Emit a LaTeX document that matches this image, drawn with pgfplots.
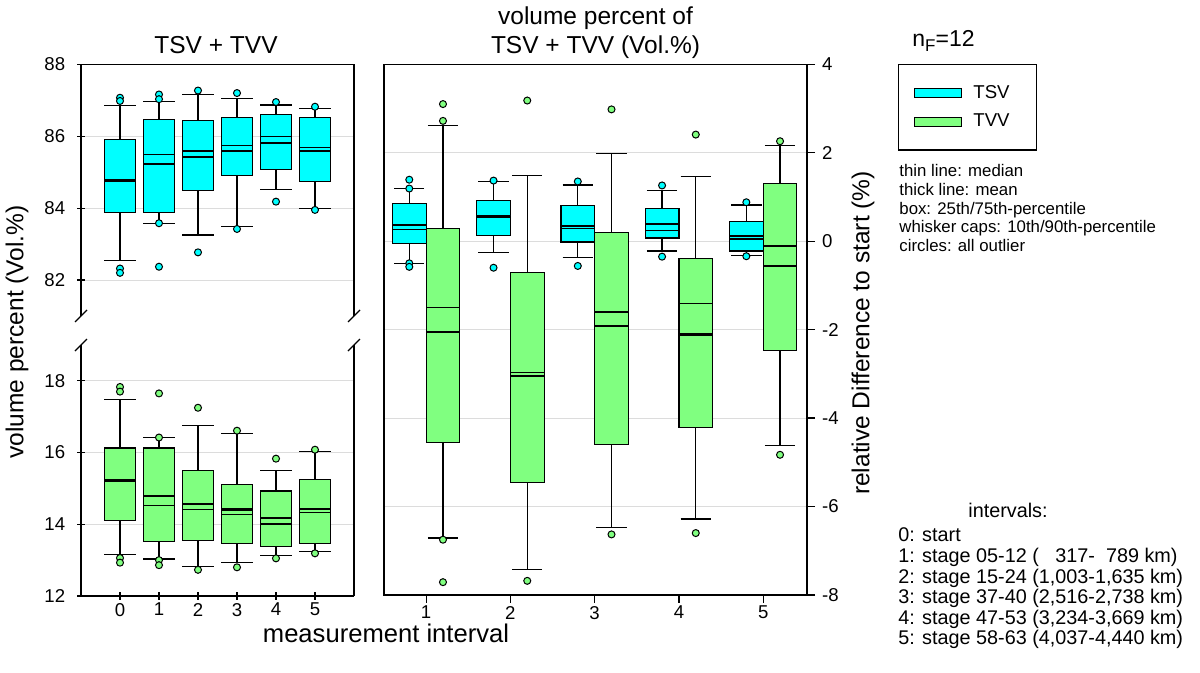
\documentclass[border=0pt]{standalone}
\usepackage{fontspec}
\setmainfont{Liberation Sans}
\usepackage{pgfplots}
\pgfplotsset{compat=1.18}
\usepgfplotslibrary{statistics}
\definecolor{tsv}{RGB}{0,255,255}
\definecolor{tvv}{RGB}{128,255,128}
\definecolor{gridc}{RGB}{220,220,220}
\newcommand{\bigf}{\fontsize{12.25}{14}\selectfont}
\newcommand{\bp}[7]{\addplot[forget plot, boxplot prepared={draw position=#1, lower whisker=#2, lower quartile=#3, median=#4, upper quartile=#5, upper whisker=#6}, #7] coordinates {};}
\pgfplotsset{
  mybase/.style={scale only axis, anchor=south west, clip=false,
    tick align=outside, major tick length=4pt,
    tick style={black, line width=0.6pt},
    axis line style={line width=0.6pt},
    ymajorgrids, grid style={gridc, line width=0.5pt},
    tick label style={font=\fontsize{9.3}{10}\selectfont},
    xticklabel style={yshift=2pt},
    /pgf/number format/assume math mode=true,
    boxplot/draw direction=y},
  noarrows/.style={x axis line style={-}, y axis line style={-},
    every outer x axis line/.append style={-},
    every outer y axis line/.append style={-},
    yticklabel style={xshift=-2.4pt}},
  tsvbox/.style={draw=black, fill=tsv, line width=0.6pt},
  tvvbox/.style={draw=black, fill=tvv, line width=0.6pt},
}
\begin{document}
\begin{tikzpicture}
\useasboundingbox (0,0) rectangle (600pt,336.5pt);
% ---------- left top: TSV absolute ----------
\begin{axis}[mybase, at={(40.5pt,178.5pt)}, width=136.5pt, height=125.85pt,
  xmin=-1, xmax=6, ymin=81, ymax=88,
  axis x line=top, axis y line=left, noarrows, xtick=\empty, ytick={82,84,86,88},
  boxplot/box extend=0.8, boxplot/whisker extend=0.8]
\bp{0}{82.54}{83.87}{84.80}{85.90}{86.85}{tsvbox}
\bp{1}{83.58}{83.87}{85.49}{86.47}{86.96}{tsvbox}
\bp{2}{83.25}{84.50}{85.59}{86.44}{87.16}{tsvbox}
\bp{3}{83.48}{84.90}{85.75}{86.52}{87.04}{tsvbox}
\bp{4}{84.51}{85.07}{86.00}{86.61}{86.87}{tsvbox}
\bp{5}{83.98}{84.75}{85.68}{86.53}{86.76}{tsvbox}
\addplot[forget plot, only marks, mark=-, mark size=7.8pt, mark options={draw=black, line width=1.1pt}]
  coordinates {(0,84.77) (1,85.23) (2,85.43) (3,85.58) (4,85.82) (5,85.58)};
\addplot[forget plot, only marks, mark=*, mark size=1.75pt, mark options={draw=black, fill=tsv, line width=0.5pt}]
  coordinates {(0,87.07) (0,86.98) (0,82.32) (0,82.20)
               (1,87.16) (1,87.03) (1,83.58) (1,82.37)
               (2,87.27) (2,82.77) (3,87.20) (3,83.42)
               (4,86.95) (4,84.18) (5,86.82) (5,83.95)};
\draw[line width=0.6pt] (rel axis cs:1,0) -- (rel axis cs:1,1);
\draw[line width=0.6pt] (rel axis cs:0,0) +(-3pt,-3pt) -- +(3pt,3pt);
\draw[line width=0.6pt] (rel axis cs:1,0) +(-3pt,-3pt) -- +(3pt,3pt);
\end{axis}
% ---------- left bottom: TVV absolute ----------
\begin{axis}[mybase, at={(40.5pt,38.5pt)}, width=136.5pt, height=125.5pt,
  xmin=-1, xmax=6, ymin=12, ymax=19,
  axis x line=bottom, axis y line=left, noarrows, xtick={0,1,2,3,4,5}, ytick={12,14,16,18},
  boxplot/box extend=0.8, boxplot/whisker extend=0.8]
\bp{0}{13.15}{14.10}{15.24}{16.13}{17.48}{tvvbox}
\bp{1}{13.03}{13.52}{14.52}{16.13}{16.42}{tvvbox}
\bp{2}{12.82}{13.55}{14.41}{15.49}{16.76}{tvvbox}
\bp{3}{12.94}{13.47}{14.27}{15.10}{16.53}{tvvbox}
\bp{4}{13.14}{13.37}{14.01}{14.93}{15.49}{tvvbox}
\bp{5}{13.25}{13.46}{14.33}{15.25}{16.02}{tvvbox}
\addplot[forget plot, only marks, mark=-, mark size=7.8pt, mark options={draw=black, line width=1.1pt}]
  coordinates {(0,15.21) (1,14.78) (2,14.57) (3,14.41) (4,14.17) (5,14.42)};
\addplot[forget plot, only marks, mark=*, mark size=1.75pt, mark options={draw=black, fill=tvv, line width=0.5pt}]
  coordinates {(0,17.83) (0,17.70) (0,13.06) (0,12.93)
               (1,17.65) (1,16.42) (1,13.00) (1,12.86)
               (2,17.25) (2,12.73) (3,16.61) (3,12.80)
               (4,15.83) (4,13.05) (5,16.08) (5,13.19)};
\draw[line width=0.6pt] (rel axis cs:1,0) -- (rel axis cs:1,1);
\draw[line width=0.6pt] (rel axis cs:0,1) +(-3pt,-3pt) -- +(3pt,3pt);
\draw[line width=0.6pt] (rel axis cs:1,1) +(-3pt,-3pt) -- +(3pt,3pt);
\end{axis}
% ---------- right: relative difference ----------
\begin{axis}[mybase, at={(192pt,39pt)}, width=211.5pt, height=265.35pt,
  xmin=0.5, xmax=5.52, ymin=-8, ymax=4,
  xtick={1,2,3,4,5}, ytick={-8,-6,-4,-2,0,2,4},
  ytick pos=right, yticklabel pos=right, xtick pos=left,
  boxplot/box extend=0.4, boxplot/whisker extend=0.36,
  legend style={at={(1.2151,1)}, anchor=north west, draw=black, line width=0.6pt,
    inner xsep=7.5pt, inner ysep=10.2pt, row sep=6.3pt, column sep=5.8pt,
    font=\fontsize{9.3}{10}\selectfont, nodes={inner sep=0pt, text width=24pt}},
  legend cell align=left]
\bp{0.8}{-0.50}{-0.05}{0.26}{0.86}{1.19}{tsvbox}
\bp{1.8}{-0.25}{0.12}{0.58}{0.92}{1.35}{tsvbox}
\bp{2.8}{-0.36}{-0.02}{0.28}{0.80}{1.27}{tsvbox}
\bp{3.8}{-0.22}{0.07}{0.25}{0.74}{1.14}{tsvbox}
\bp{4.8}{-0.32}{-0.22}{0.05}{0.44}{0.82}{tsvbox}
\bp{1.2}{-6.71}{-4.56}{-1.50}{0.29}{2.62}{tvvbox}
\bp{2.2}{-7.43}{-5.45}{-2.97}{-0.71}{1.48}{tvvbox}
\bp{3.2}{-6.47}{-4.59}{-1.60}{0.19}{1.98}{tvvbox}
\bp{4.2}{-6.28}{-4.21}{-1.41}{-0.40}{1.46}{tvvbox}
\bp{5.2}{-4.62}{-2.48}{-0.11}{1.31}{2.16}{tvvbox}
\addplot[forget plot, only marks, mark=-, mark size=8.4pt, mark options={draw=black, line width=1.1pt}]
  coordinates {(0.8,0.37) (1.8,0.56) (2.8,0.35) (3.8,0.38) (4.8,0.11)
               (1.2,-2.06) (2.2,-3.04) (3.2,-1.92) (4.2,-2.11) (5.2,-0.56)};
\addplot[forget plot, only marks, mark=*, mark size=1.75pt, mark options={draw=black, fill=tsv, line width=0.5pt}]
  coordinates {(0.8,1.39) (0.8,1.19) (0.8,-0.50) (0.8,-0.58)
               (1.8,1.37) (1.8,-0.60) (2.8,1.35) (2.8,-0.56)
               (3.8,1.26) (3.8,-0.35) (4.8,0.88) (4.8,-0.34)};
\addplot[forget plot, only marks, mark=*, mark size=1.75pt, mark options={draw=black, fill=tvv, line width=0.5pt}]
  coordinates {(1.2,3.10) (1.2,2.72) (1.2,-6.75) (1.2,-7.71)
               (2.2,3.18) (2.2,-7.68) (3.2,2.98) (3.2,-6.63)
               (4.2,2.41) (4.2,-6.60) (5.2,2.26) (5.2,-4.83)};
\addlegendimage{legend image code/.code={\draw[draw=black, fill=tsv, line width=0.6pt] (0pt,-2.3pt) rectangle (23.5pt,2.3pt);}}
\addlegendentry{TSV}
\addlegendimage{legend image code/.code={\draw[draw=black, fill=tvv, line width=0.6pt] (0pt,-2.3pt) rectangle (23.5pt,2.3pt);}}
\addlegendentry{TVV}
\end{axis}
% ---------- texts ----------
\node[anchor=base, font=\bigf] at (108pt,309.5pt) {TSV + TVV};
\node[anchor=base, font=\bigf] at (297.75pt,324.25pt) {volume percent of};
\node[anchor=base, font=\bigf] at (297.75pt,309.5pt) {TSV + TVV (Vol.\%)};
\node[rotate=90, font=\bigf] at (8.5pt,170.5pt) {volume percent (Vol.\%)};
\node[rotate=90, font=\bigf] at (431.5pt,170pt) {relative Difference to start (\%)};
\node[anchor=base, font=\fontsize{12.8}{15}\selectfont] at (193pt,15pt) {measurement interval};
\node[anchor=base west, font=\fontsize{11.5}{13}\selectfont, inner sep=0pt] at (456pt,313pt) {n\raisebox{-0.4ex}{\fontsize{8.5}{9}\selectfont F}=12};
\begin{scope}[every node/.style={anchor=base west, inner sep=0pt, font=\fontsize{8.4}{9}\selectfont}]
\node at (449.5pt,248.15pt) {thin line: median};
\node at (449.5pt,238.8pt) {thick line: mean};
\node at (449.5pt,229.45pt) {box: 25th/75th-percentile};
\node at (449.5pt,220.1pt) {whisker caps: 10th/90th-percentile};
\node at (449.5pt,210.75pt) {circles: all outlier};
\end{scope}
\begin{scope}[every node/.style={anchor=base west, inner sep=0pt, font=\fontsize{9.9}{11}\selectfont}]
\node[anchor=base] at (504pt,77.5pt) {intervals:};
\node at (449pt,65.5pt) {0: start};
\node at (449pt,55pt) {1: stage 05-12 (\ \ \ 317-\ \ 789 km)};
\node at (449pt,44.5pt) {2: stage 15-24 (1,003-1,635 km)};
\node at (449pt,34.5pt) {3: stage 37-40 (2,516-2,738 km)};
\node at (449pt,24pt) {4: stage 47-53 (3,234-3,669 km)};
\node at (449pt,14pt) {5: stage 58-63 (4,037-4,440 km)};
\end{scope}
\end{tikzpicture}
\end{document}
